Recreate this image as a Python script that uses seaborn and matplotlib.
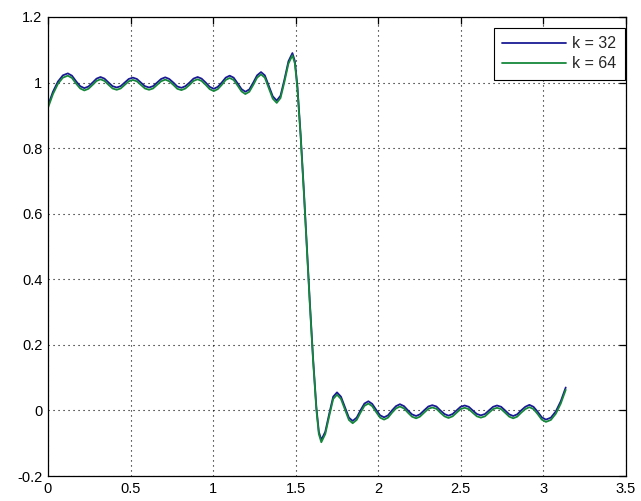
import matplotlib
matplotlib.use("Agg")
import matplotlib.pyplot as plt
import pandas as pd
import seaborn as sns

# Sample positions along [0, pi]
x_vals = [
    0.0, 0.03, 0.06, 0.09, 0.12, 0.145, 0.17, 0.195, 0.22, 0.245,
    0.27, 0.294, 0.318, 0.342, 0.367, 0.391, 0.416, 0.44, 0.465, 0.489,
    0.514, 0.538, 0.563, 0.587, 0.612, 0.636, 0.661, 0.685, 0.71, 0.734,
    0.759, 0.783, 0.808, 0.832, 0.857, 0.881, 0.906, 0.93, 0.955, 0.979,
    1.004, 1.028, 1.052, 1.076, 1.1, 1.124, 1.148, 1.172, 1.195, 1.219,
    1.243, 1.266, 1.29, 1.313, 1.337, 1.361, 1.385, 1.408, 1.432, 1.456,
    1.48, 1.495, 1.51, 1.53, 1.55, 1.5675, 1.585, 1.605, 1.625, 1.64,
    1.655, 1.679, 1.703, 1.727, 1.75, 1.774, 1.798, 1.822, 1.845, 1.869,
    1.892, 1.916, 1.94, 1.963, 1.987, 2.011, 2.035, 2.059, 2.083, 2.107,
    2.131, 2.156, 2.18, 2.204, 2.229, 2.252, 2.277, 2.303, 2.327, 2.352,
    2.376, 2.401, 2.425, 2.45, 2.474, 2.498, 2.523, 2.548, 2.572, 2.597,
    2.621, 2.646, 2.67, 2.695, 2.719, 2.744, 2.768, 2.793, 2.817, 2.841,
    2.865, 2.89, 2.915, 2.94, 2.965, 2.99, 3.015, 3.045, 3.075, 3.105,
    3.135,
]

# Reconstruction with k = 32
y_k32 = [
    0.93, 0.972, 1.003, 1.022, 1.028, 1.021, 1.004, 0.989, 0.983, 0.988,
    1.0, 1.012, 1.017, 1.012, 1.0, 0.989, 0.985, 0.989, 1.0, 1.011,
    1.015, 1.011, 1.0, 0.989, 0.985, 0.989, 1.0, 1.011, 1.016, 1.011,
    1.0, 0.988, 0.984, 0.989, 1.0, 1.012, 1.017, 1.012, 1.0, 0.987,
    0.981, 0.987, 1.0, 1.015, 1.021, 1.015, 0.998, 0.98, 0.972, 0.979,
    1.0, 1.022, 1.032, 1.022, 0.99, 0.958, 0.945, 0.96, 1.01, 1.065,
    1.09, 1.065, 0.99, 0.84, 0.665, 0.5, 0.335, 0.16, 0.01, -0.065,
    -0.09, -0.065, -0.01, 0.042, 0.055, 0.042, 0.01, -0.022, -0.032, -0.022,
    0.0, 0.021, 0.028, 0.02, 0.002, -0.015, -0.021, -0.015, 0.0, 0.013,
    0.019, 0.013, 0.0, -0.012, -0.017, -0.012, 0.0, 0.012, 0.016, 0.012,
    0.0, -0.011, -0.016, -0.011, 0.0, 0.011, 0.015, 0.011, 0.0, -0.011,
    -0.015, -0.011, 0.0, 0.011, 0.015, 0.011, 0.0, -0.012, -0.017, -0.012,
    0.0, 0.011, 0.017, 0.011, -0.004, -0.021, -0.028, -0.022, -0.003, 0.028,
    0.07,
]

# Reconstruction with k = 64
y_k64 = [
    0.923, 0.965, 0.996, 1.015, 1.021, 1.014, 0.997, 0.982, 0.976, 0.981,
    0.993, 1.005, 1.010, 1.005, 0.993, 0.982, 0.978, 0.982, 0.993, 1.004,
    1.008, 1.004, 0.993, 0.982, 0.978, 0.982, 0.993, 1.004, 1.009, 1.004,
    0.993, 0.981, 0.977, 0.982, 0.993, 1.005, 1.010, 1.005, 0.993, 0.980,
    0.974, 0.980, 0.993, 1.008, 1.014, 1.008, 0.991, 0.973, 0.965, 0.972,
    0.993, 1.015, 1.025, 1.015, 0.983, 0.951, 0.938, 0.953, 1.003, 1.058,
    1.083, 1.058, 0.983, 0.833, 0.658, 0.493, 0.328, 0.153, 0.003, -0.072,
    -0.097, -0.072, -0.017, 0.035, 0.048, 0.035, 0.003, -0.029, -0.039, -0.029,
    -0.007, 0.014, 0.021, 0.013, -0.005, -0.022, -0.028, -0.022, -0.007, 0.006,
    0.012, 0.006, -0.007, -0.019, -0.024, -0.019, -0.007, 0.005, 0.009, 0.005,
    -0.007, -0.018, -0.023, -0.018, -0.007, 0.004, 0.008, 0.004, -0.007, -0.018,
    -0.022, -0.018, -0.007, 0.004, 0.008, 0.004, -0.007, -0.019, -0.024, -0.019,
    -0.007, 0.004, 0.010, 0.004, -0.011, -0.028, -0.035, -0.029, -0.010, 0.021,
    0.063,
]

series_labels = ["k = 32", "k = 64"]
series_colors = ["#1a1a94", "#15883a"]

x_ticks = [0, 0.5, 1, 1.5, 2, 2.5, 3, 3.5]
x_tick_labels = ["0", "0.5", "1", "1.5", "2", "2.5", "3", "3.5"]
y_ticks = [-0.2, 0, 0.2, 0.4, 0.6, 0.8, 1, 1.2]
y_tick_labels = ["-0.2", "0", "0.2", "0.4", "0.6", "0.8", "1", "1.2"]

df = pd.DataFrame({
    "x": x_vals + x_vals,
    "y": y_k32 + y_k64,
    "k": [series_labels[0]] * len(x_vals) + [series_labels[1]] * len(x_vals),
})

sns.set_theme(style="white")
plt.rcParams["font.family"] = ["Liberation Sans", "DejaVu Sans"]

fig = plt.figure(figsize=(6.41, 5.01), dpi=100)
ax = fig.add_axes([48 / 641, 25 / 501, 578 / 641, 459 / 501])

sns.lineplot(
    data=df, x="x", y="y", hue="k",
    palette=dict(zip(series_labels, series_colors)),
    estimator=None, sort=False, linewidth=1.3, ax=ax, legend=False,
)

ax.set_xlim(0, 3.5)
ax.set_ylim(-0.2, 1.2)
ax.set_xticks(x_ticks)
ax.set_xticklabels(x_tick_labels)
ax.set_yticks(y_ticks)
ax.set_yticklabels(y_tick_labels)
ax.set_xlabel("")
ax.set_ylabel("")

ax.grid(True, color="black", linestyle=(0, (1, 3.5)), linewidth=0.8)
ax.set_axisbelow(True)
for side in ax.spines.values():
    side.set_color("black")
    side.set_linewidth(0.9)
ax.tick_params(direction="in", length=5, width=0.9, colors="black",
               labelsize=10.5, top=True, right=True, pad=4)

handles = ax.get_lines()[:2]
leg = ax.legend(handles, series_labels, loc="upper right",
                bbox_to_anchor=(0.998, 0.977), frameon=True, fancybox=False,
                edgecolor="black", framealpha=1, fontsize=11.5,
                handlelength=4.0, handletextpad=0.35, borderpad=0.55,
                labelspacing=0.3, borderaxespad=0)
leg.get_frame().set_linewidth(0.8)

fig.savefig("out.png", dpi=100, facecolor="white")
